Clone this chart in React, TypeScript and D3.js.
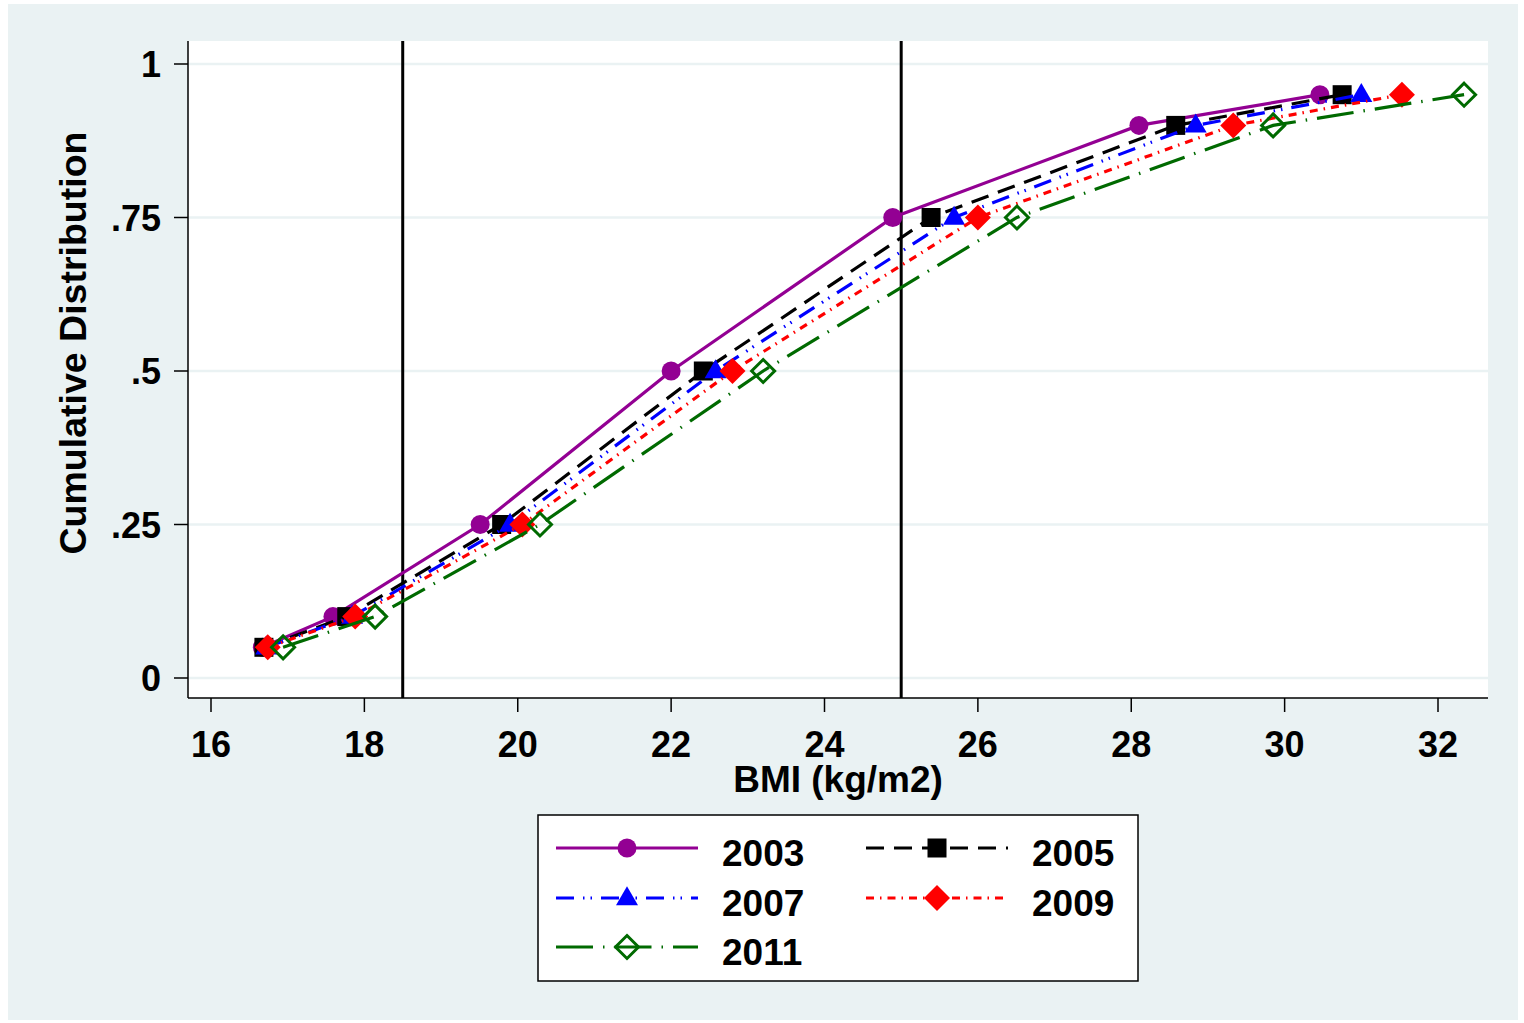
import React from "react";
import * as d3 from "d3";

const percentiles = [0.05, 0.1, 0.25, 0.5, 0.75, 0.9, 0.95];
const bmi2003 = [16.67, 17.59, 19.51, 22.0, 24.89, 28.1, 30.46];
const bmi2005 = [16.69, 17.77, 19.79, 22.42, 25.39, 28.58, 30.75];
const bmi2007 = [16.72, 17.84, 19.9, 22.58, 25.69, 28.84, 31.0];
const bmi2009 = [16.74, 17.88, 20.06, 22.8, 26.0, 29.33, 31.53];
const bmi2011 = [16.94, 18.14, 20.29, 23.2, 26.51, 29.85, 32.34];
const xTicks = [16, 18, 20, 22, 24, 26, 28, 30, 32];
const yTicks = [0, 0.25, 0.5, 0.75, 1];
const yTickLabels = ["0", ".25", ".5", ".75", "1"];
const refLines = [18.5, 25];

type Marker = "circle" | "square" | "triangle" | "diamond" | "hdiamond";
const series: { name: string; values: number[]; color: string; dash: string; marker: Marker }[] = [
  { name: "2003", values: bmi2003, color: "#930093", dash: "none", marker: "circle" },
  { name: "2005", values: bmi2005, color: "#000000", dash: "18,10", marker: "square" },
  { name: "2007", values: bmi2007, color: "#0000ff", dash: "18,9,1.5,6,1.5,9", marker: "triangle" },
  { name: "2009", values: bmi2009, color: "#ff0000", dash: "8,6,1.5,6", marker: "diamond" },
  { name: "2011", values: bmi2011, color: "#006a00", dash: "37,10,1.5,10", marker: "hdiamond" },
];

const FONT = "'Liberation Sans', Arial, Helvetica, sans-serif";
const BG = "#eaf2f3";

function MarkerShape({ type, x, y, color }: { type: Marker; x: number; y: number; color: string }) {
  if (type === "circle") return <circle cx={x} cy={y} r={9.5} fill={color} />;
  if (type === "square") return <rect x={x - 9.5} y={y - 9.5} width={19} height={19} fill={color} />;
  if (type === "triangle") {
    const h = 19;
    const w = 22;
    return <path d={`M${x},${y - h * 0.62}L${x + w / 2},${y + h * 0.38}L${x - w / 2},${y + h * 0.38}Z`} fill={color} />;
  }
  if (type === "diamond") {
    const s = 13;
    return <path d={`M${x},${y - s}L${x + s},${y}L${x},${y + s}L${x - s},${y}Z`} fill={color} />;
  }
  const s = 11.5;
  return <path d={`M${x},${y - s}L${x + s},${y}L${x},${y + s}L${x - s},${y}Z`} fill="white" fillOpacity={0} stroke={color} strokeWidth={3} />;
}

export default function App() {
  const W = 1524;
  const H = 1023;
  const plot = { left: 188, right: 1488, top: 41, bottom: 698 };
  const x = d3.scaleLinear().domain([16, 32]).range([211, 1438]);
  const y = d3.scaleLinear().domain([0, 1]).range([678, 64]);
  const line = d3
    .line<[number, number]>()
    .x((d) => x(d[0]))
    .y((d) => y(d[1]));

  const legendItems = [
    { s: series[0], col: 0, row: 0 },
    { s: series[1], col: 1, row: 0 },
    { s: series[2], col: 0, row: 1 },
    { s: series[3], col: 1, row: 1 },
    { s: series[4], col: 0, row: 2 },
  ];
  const colX = [556, 866];
  const rowY = [848, 898, 947];

  return (
    <svg width={W} height={H} style={{ position: "absolute", left: 0, top: 0 }} fontFamily={FONT}>
      <rect x={0} y={0} width={W} height={H} fill="white" />
      <rect x={8} y={4} width={1510} height={1016} fill={BG} />
      <rect x={plot.left} y={plot.top} width={plot.right - plot.left} height={plot.bottom - plot.top} fill="white" />
      {yTicks.map((t) => (
        <line key={"g" + t} x1={plot.left} x2={plot.right} y1={y(t)} y2={y(t)} stroke={BG} strokeWidth={2.5} />
      ))}
      {refLines.map((r) => (
        <line key={"r" + r} x1={x(r)} x2={x(r)} y1={plot.top} y2={plot.bottom} stroke="black" strokeWidth={3} />
      ))}
      {series.map((s) => {
        const pts: [number, number][] = s.values.map((v, i) => [v, percentiles[i]]);
        return (
          <g key={s.name}>
            <path d={line(pts) || ""} fill="none" stroke={s.color} strokeWidth={3.2} strokeDasharray={s.dash} />
            {pts.map((p, i) => (
              <MarkerShape key={i} type={s.marker} x={x(p[0])} y={y(p[1])} color={s.color} />
            ))}
          </g>
        );
      })}
      {/* axes */}
      <line x1={plot.left} x2={plot.left} y1={plot.top} y2={plot.bottom} stroke="black" strokeWidth={1.5} />
      <line x1={plot.left} x2={plot.right} y1={plot.bottom} y2={plot.bottom} stroke="black" strokeWidth={1.5} />
      {xTicks.map((t) => (
        <g key={"x" + t}>
          <line x1={x(t)} x2={x(t)} y1={plot.bottom} y2={plot.bottom + 14} stroke="black" strokeWidth={1.5} />
          <text x={x(t)} y={757} textAnchor="middle" fontSize={36} fontWeight="bold">
            {t}
          </text>
        </g>
      ))}
      {yTicks.map((t, i) => (
        <g key={"y" + t}>
          <line x1={plot.left - 14} x2={plot.left} y1={y(t)} y2={y(t)} stroke="black" strokeWidth={1.5} />
          <text x={161} y={y(t) + 13} textAnchor="end" fontSize={36} fontWeight="bold">
            {yTickLabels[i]}
          </text>
        </g>
      ))}
      <text x={838} y={792} textAnchor="middle" fontSize={37} fontWeight="bold">
        BMI (kg/m2)
      </text>
      <text transform={`translate(86,343) rotate(-90)`} textAnchor="middle" fontSize={37.5} fontWeight="bold">
        Cumulative Distribution
      </text>
      {/* legend */}
      <rect x={538} y={815} width={600} height={166} fill="white" stroke="black" strokeWidth={1.5} />
      {legendItems.map(({ s, col, row }) => {
        const lx = colX[col];
        const ly = rowY[row];
        return (
          <g key={"l" + s.name}>
            <line x1={lx} x2={lx + 142} y1={ly} y2={ly} stroke={s.color} strokeWidth={3.2} strokeDasharray={s.dash} />
            <MarkerShape type={s.marker} x={lx + 71} y={ly} color={s.color} />
            <text x={lx + 166} y={ly + 18} fontSize={37} fontWeight="bold">
              {s.name}
            </text>
          </g>
        );
      })}
    </svg>
  );
}
